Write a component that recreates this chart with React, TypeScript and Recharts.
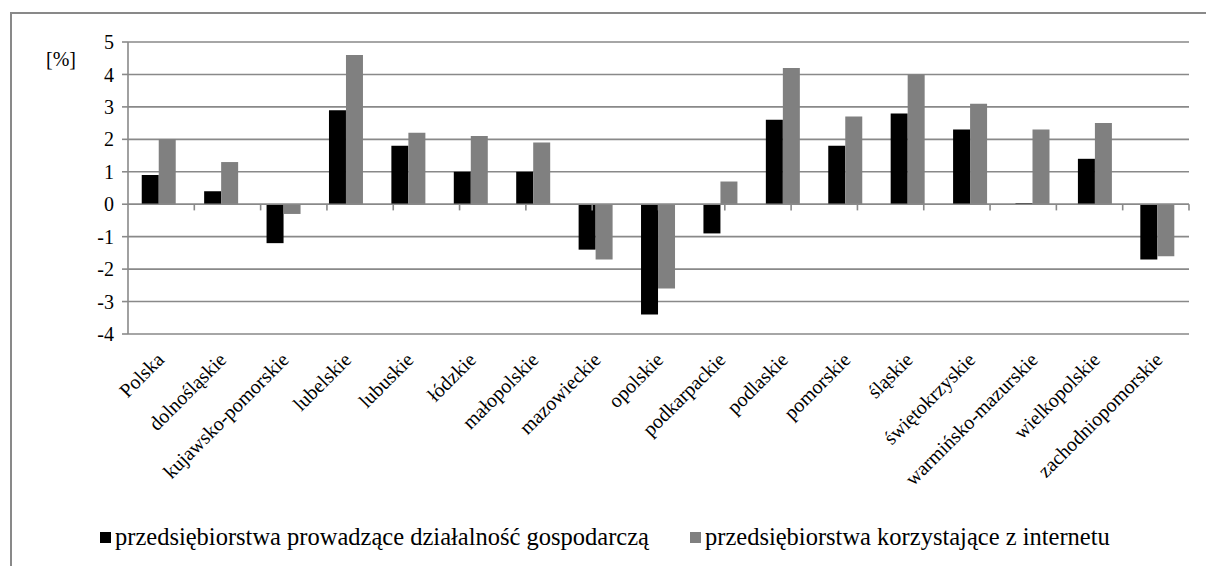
import React from 'react';
import {
  BarChart,
  Bar,
  XAxis,
  YAxis,
  CartesianGrid,
  ReferenceLine,
  Legend,
} from 'recharts';

const regions = [
  'Polska',
  'dolnośląskie',
  'kujawsko-pomorskie',
  'lubelskie',
  'lubuskie',
  'łódzkie',
  'małopolskie',
  'mazowieckie',
  'opolskie',
  'podkarpackie',
  'podlaskie',
  'pomorskie',
  'śląskie',
  'świętokrzyskie',
  'warmińsko-mazurskie',
  'wielkopolskie',
  'zachodniopomorskie',
];

const prowadzace = [0.9, 0.4, -1.2, 2.9, 1.8, 1.0, 1.0, -1.4, -3.4, -0.9, 2.6, 1.8, 2.8, 2.3, 0.03, 1.4, -1.7];
const internet = [2.0, 1.3, -0.3, 4.6, 2.2, 2.1, 1.9, -1.7, -2.6, 0.7, 4.2, 2.7, 4.0, 3.1, 2.3, 2.5, -1.6];

const yTicks = [-4, -3, -2, -1, 0, 1, 2, 3, 4, 5];

const seriesNames = [
  'przedsiębiorstwa prowadzące działalność gospodarczą',
  'przedsiębiorstwa korzystające z internetu',
];

const data = regions.map((name, i) => ({
  name,
  prowadzace: prowadzace[i],
  internet: internet[i],
}));

const FONT = 'Liberation Serif, Times New Roman, serif';
const GRID = '#898989';
const BLACK = '#000000';
const GREY = '#808080';

function CategoryTick(props: any) {
  const { x, y, payload } = props;
  const ax = x + 6;
  const ay = y + 19;
  return (
    <text
      x={ax}
      y={ay}
      transform={`rotate(-45, ${ax}, ${ay})`}
      textAnchor="end"
      style={{ fontFamily: FONT }}
      fontSize={20}
      fill="#000"
    >
      {payload.value}
    </text>
  );
}

function LegendContent() {
  const item = (color: string, label: string, width: number) => (
    <div style={{ display: 'flex', alignItems: 'center', width }}>
      <span style={{ display: 'inline-block', width: 11, height: 11, background: color, marginRight: 4 }} />
      <span>{label}</span>
    </div>
  );
  return (
    <div
      style={{
        display: 'flex',
        height: 28,
        alignItems: 'center',
        paddingLeft: 100,
        fontFamily: FONT,
        fontSize: 24.5,
        color: '#000',
        whiteSpace: 'nowrap',
      }}
    >
      {item(BLACK, seriesNames[0], 590)}
      {item(GREY, seriesNames[1], 430)}
    </div>
  );
}

export default function App() {
  const boundaries = regions.map((_, i) => i + 1);
  return (
    <div
      style={{
        position: 'absolute',
        left: 0,
        top: 0,
        width: 1206,
        height: 566,
        background: '#fff',
        overflow: 'hidden',
        fontFamily: FONT,
      }}
    >
      <div
        style={{
          position: 'absolute',
          left: 10,
          top: 12,
          width: 1300,
          height: 700,
          borderTop: `2px solid ${GRID}`,
          borderLeft: `2px solid ${GRID}`,
        }}
      />
      <div
        style={{
          position: 'absolute',
          left: 46,
          top: 48,
          fontSize: 20,
          color: '#000',
        }}
      >
        [%]
      </div>
      <div style={{ position: 'absolute', left: 0, top: 0 }}>
        <BarChart
          width={1206}
          height={566}
          data={data}
          margin={{ top: 42, right: 17, left: 68, bottom: 15 }}
          barCategoryGap="22%"
          barGap={0}
          style={{ fontFamily: FONT }}
        >
          <CartesianGrid horizontal vertical={false} stroke={GRID} strokeWidth={1.6} />
          <XAxis
            dataKey="name"
            height={189}
            axisLine={false}
            tickLine={false}
            interval={0}
            tick={<CategoryTick />}
          />
          <XAxis xAxisId="grid" type="number" domain={[0, 17]} hide />
          <YAxis
            width={60}
            domain={[-4, 5]}
            ticks={yTicks}
            interval={0}
            axisLine={{ stroke: GRID, strokeWidth: 1.6 }}
            tickLine={{ stroke: GRID, strokeWidth: 1.6 }}
            tickSize={6}
            tickMargin={8}
            tick={{ fontSize: 20, fill: '#000', style: { fontFamily: FONT } }}
          />
          <Legend verticalAlign="bottom" wrapperStyle={{ left: 0, width: 1206 }} content={<LegendContent />} />
          <Bar dataKey="prowadzace" name={seriesNames[0]} fill={BLACK} isAnimationActive={false} />
          <Bar dataKey="internet" name={seriesNames[1]} fill={GREY} isAnimationActive={false} />
          <ReferenceLine y={0} stroke={GRID} strokeWidth={1.6} />
          {boundaries.map((b) => (
            <ReferenceLine
              key={b}
              xAxisId="grid"
              segment={[
                { x: b, y: 0 },
                { x: b, y: -0.19 },
              ]}
              stroke={GRID}
              strokeWidth={1.6}
            />
          ))}
        </BarChart>
      </div>
    </div>
  );
}
